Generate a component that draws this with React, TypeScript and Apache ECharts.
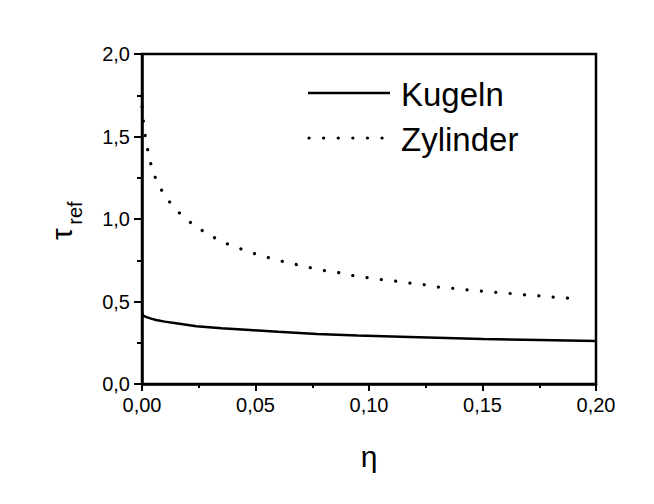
import React, { useEffect, useRef } from "react";
import * as echarts from "echarts";

const kugelnEta = [0, 0.0005, 0.002, 0.004, 0.0062, 0.01, 0.015, 0.024, 0.035, 0.0476, 0.06, 0.077, 0.095, 0.114, 0.13, 0.15, 0.175, 0.2];
const kugelnTau = [0.43, 0.415, 0.405, 0.396, 0.388, 0.378, 0.368, 0.35, 0.338, 0.327, 0.316, 0.303, 0.294, 0.287, 0.281, 0.273, 0.267, 0.261];

const zylEta = [0, 0.0009, 0.0018, 0.0031, 0.0048, 0.0074, 0.0112, 0.0166, 0.0228, 0.0291, 0.0354, 0.0417, 0.048, 0.0543, 0.0608, 0.0671, 0.0734, 0.0796, 0.086, 0.0922, 0.0987, 0.1048, 0.1113, 0.1176, 0.1237, 0.13, 0.1364, 0.1427, 0.149, 0.1554, 0.1617, 0.168, 0.1744, 0.1806, 0.187, 0.1934];
const zylTau = [1.68, 1.555, 1.47, 1.38, 1.29, 1.206, 1.12, 1.035, 0.964, 0.909, 0.862, 0.828, 0.797, 0.771, 0.747, 0.727, 0.707, 0.689, 0.677, 0.659, 0.646, 0.634, 0.624, 0.612, 0.603, 0.588, 0.58, 0.571, 0.564, 0.556, 0.549, 0.541, 0.535, 0.527, 0.521, 0.513];

const xTicks = ["0,00", "0,05", "0,10", "0,15", "0,20"];
const yTicks = ["0,0", "0,5", "1,0", "1,5", "2,0"];
const legendNames = ["Kugeln", "Zylinder"];

const FONT = "Liberation Sans, Arial, sans-serif";

export default function App() {
  const ref = useRef<HTMLDivElement>(null);
  useEffect(() => {
    if (!ref.current) return;
    const chart = echarts.init(ref.current, null, { renderer: "svg" });
    const kData = kugelnEta.map((x, i) => [x, kugelnTau[i]]);
    const zData = zylEta.map((x, i) => [x, zylTau[i]]);
    chart.setOption({
      animation: false,
      backgroundColor: "#ffffff",
      grid: {
        left: 142,
        right: 58,
        top: 54,
        bottom: 120,
        show: true,
        borderColor: "#000",
        borderWidth: 2.5,
        backgroundColor: "transparent",
      },
      xAxis: {
        type: "value",
        min: 0,
        max: 0.2,
        interval: 0.05,
        name: "η",
        nameLocation: "middle",
        nameGap: 57,
        nameTextStyle: { fontFamily: FONT, fontSize: 30, color: "#000" },
        axisLine: { show: true, onZero: false, lineStyle: { color: "#000", width: 2.5 } },
        axisTick: { show: true, inside: false, length: 7, lineStyle: { color: "#000", width: 2 } },
        minorTick: { show: true, splitNumber: 2, length: 4, lineStyle: { color: "#000", width: 2 } },
        splitLine: { show: false },
        axisLabel: {
          margin: 11,
          fontFamily: FONT,
          fontSize: 20,
          color: "#000",
          formatter: (v: number) => xTicks[Math.round(v / 0.05)] ?? "",
        },
      },
      yAxis: {
        type: "value",
        min: 0,
        max: 2,
        interval: 0.5,
        axisLine: { show: true, onZero: false, lineStyle: { color: "#000", width: 2.5 } },
        axisTick: { show: true, inside: false, length: 8, lineStyle: { color: "#000", width: 2 } },
        minorTick: { show: true, splitNumber: 2, length: 5, lineStyle: { color: "#000", width: 2 } },
        splitLine: { show: false },
        axisLabel: {
          margin: 12,
          fontFamily: FONT,
          fontSize: 20,
          color: "#000",
          formatter: (v: number) => yTicks[Math.round(v / 0.5)] ?? "",
        },
      },
      graphic: [
        {
          type: "text",
          x: 61,
          y: 234,
          rotation: Math.PI / 2,
          style: { text: "τ", fontFamily: FONT, fontSize: 30, fill: "#000", textAlign: "center", textVerticalAlign: "middle" },
        },
        {
          type: "text",
          x: 75,
          y: 213,
          rotation: Math.PI / 2,
          style: { text: "ref", fontFamily: FONT, fontSize: 20, fill: "#000", textAlign: "center", textVerticalAlign: "middle" },
        },
        {
          type: "line",
          shape: { x1: 308, y1: 93, x2: 390, y2: 93 },
          style: { stroke: "#000", lineWidth: 2.5 },
        },
        {
          type: "text",
          x: 401,
          y: 94,
          style: { text: legendNames[0], fontFamily: FONT, fontSize: 33, fill: "#000", textAlign: "left", textVerticalAlign: "middle" },
        },
        {
          type: "line",
          shape: { x1: 309, y1: 138, x2: 390, y2: 138 },
          style: { stroke: "#000", lineWidth: 3.2, lineDash: [0.1, 14.5], lineCap: "round" },
        },
        {
          type: "text",
          x: 401,
          y: 139,
          style: { text: legendNames[1], fontFamily: FONT, fontSize: 33, fill: "#000", textAlign: "left", textVerticalAlign: "middle" },
        },
      ],
      series: [
        {
          name: legendNames[0],
          type: "line",
          data: kData,
          symbol: "none",
          lineStyle: { color: "#000", width: 2.5 },
          itemStyle: { color: "#000" },
        },
        {
          name: legendNames[1],
          type: "line",
          data: zData,
          symbol: "none",
          smooth: 0.3,
          lineStyle: { color: "#000", width: 3.2, type: [0.1, 14.3], cap: "round" },
          itemStyle: { color: "#000" },
        },
      ],
    });
    return () => chart.dispose();
  }, []);
  return <div ref={ref} style={{ width: 654, height: 504, margin: -8 }} />;
}
